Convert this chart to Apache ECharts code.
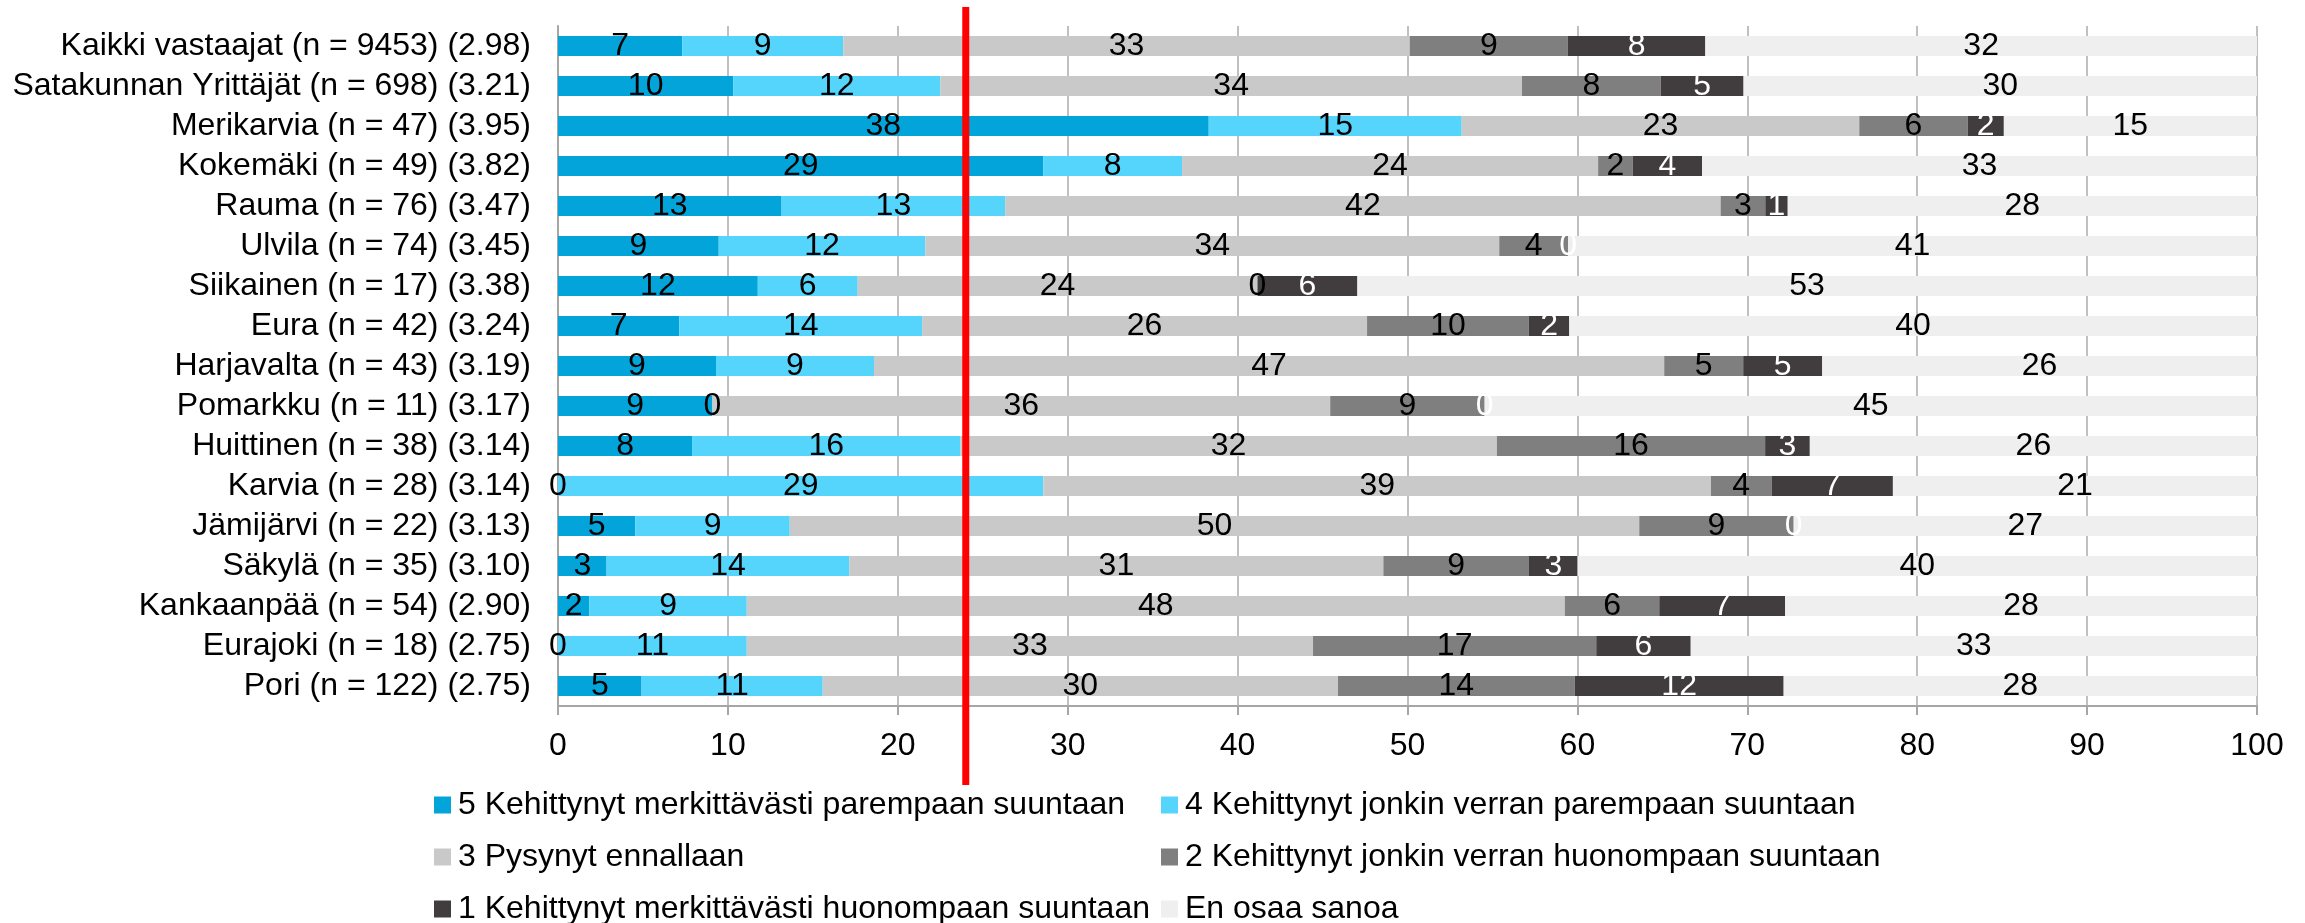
<!DOCTYPE html>
<html><head><meta charset="utf-8">
<script src="https://cdn.jsdelivr.net/npm/echarts@6/dist/echarts.min.js"></script>
<style>html,body{margin:0;padding:0;background:#fff}#c{width:2305px;height:923px}</style>
</head><body><div id="c"></div>
<script>
const categories = [
  'Kaikki vastaajat (n = 9453) (2.98)',
  'Satakunnan Yrittäjät (n = 698) (3.21)',
  'Merikarvia (n = 47) (3.95)',
  'Kokemäki (n = 49) (3.82)',
  'Rauma (n = 76) (3.47)',
  'Ulvila (n = 74) (3.45)',
  'Siikainen (n = 17) (3.38)',
  'Eura (n = 42) (3.24)',
  'Harjavalta (n = 43) (3.19)',
  'Pomarkku (n = 11) (3.17)',
  'Huittinen (n = 38) (3.14)',
  'Karvia (n = 28) (3.14)',
  'Jämijärvi (n = 22) (3.13)',
  'Säkylä (n = 35) (3.10)',
  'Kankaanpää (n = 54) (2.90)',
  'Eurajoki (n = 18) (2.75)',
  'Pori (n = 122) (2.75)'
];
const seriesNames = [
  '5 Kehittynyt merkittävästi parempaan suuntaan',
  '4 Kehittynyt jonkin verran parempaan suuntaan',
  '3 Pysynyt ennallaan',
  '2 Kehittynyt jonkin verran huonompaan suuntaan',
  '1 Kehittynyt merkittävästi huonompaan suuntaan',
  'En osaa sanoa'
];
const v5  = [7.31, 10.32, 38.30, 28.57, 13.16, 9.46, 11.76, 7.14, 9.30, 9.09, 7.89, 0, 4.55, 2.86, 1.85, 0, 4.92];
const v4  = [9.48, 12.18, 14.89, 8.16, 13.16, 12.16, 5.88, 14.29, 9.30, 0, 15.79, 28.57, 9.09, 14.29, 9.26, 11.11, 10.66];
const v3  = [33.34, 34.24, 23.40, 24.49, 42.11, 33.78, 23.53, 26.19, 46.51, 36.36, 31.58, 39.29, 50.00, 31.43, 48.15, 33.33, 30.33];
const v2  = [9.31, 8.17, 6.38, 2.04, 2.63, 4.05, 0, 9.52, 4.65, 9.09, 15.79, 3.57, 9.09, 8.57, 5.56, 16.67, 13.93];
const v1  = [8.09, 4.87, 2.13, 4.08, 1.32, 0, 5.88, 2.38, 4.65, 0, 2.63, 7.14, 0, 2.86, 7.41, 5.56, 12.30];
const vEos = [32.47, 30.23, 14.89, 32.65, 27.63, 40.54, 52.94, 40.48, 25.58, 45.45, 26.32, 21.43, 27.27, 40.00, 27.78, 33.33, 27.87];
const xTicks = [0, 10, 20, 30, 40, 50, 60, 70, 80, 90, 100];
const referenceValue = 24;

const colors = ['#02A4D9', '#55D4FC', '#C9C9C9', '#7F7F7F', '#413D3E', '#EFEFEF'];
const labelColors = ['#000', '#000', '#000', '#000', '#fff', '#000'];
const allValues = [v5, v4, v3, v2, v1, vEos];
const FONT = "'Liberation Sans', Arial, sans-serif";
const FS = 32;

const chart = echarts.init(document.getElementById('c'), null, {renderer: 'canvas'});
const series = allValues.map((vals, i) => ({
  name: seriesNames[i],
  type: 'bar',
  stack: 'total',
  barWidth: '50%',
  data: vals,
  itemStyle: {color: colors[i]},
  label: {
    show: true,
    position: 'inside',
    color: labelColors[i],
    fontSize: FS,
    fontFamily: FONT,
    formatter: p => String(Math.round(p.value))
  },
  emphasis: {disabled: true}
}));

const legendCommon = {
  orient: 'vertical', top: 789, itemGap: 20, padding: 0, height: 200, width: 900,
  itemWidth: 17, itemHeight: 17, icon: 'rect', selectedMode: false,
  textStyle: {fontSize: FS, color: '#000', fontFamily: FONT, padding: [0, 0, 0, 2]}
};

chart.setOption({
  animation: false,
  textStyle: {fontFamily: FONT},
  grid: {left: 558, right: 48, top: 26, bottom: 217, containLabel: false},
  xAxis: {
    type: 'value', min: xTicks[0], max: xTicks[xTicks.length - 1], interval: 10,
    axisLine: {show: true, lineStyle: {color: '#A6A6A6', width: 2}},
    axisTick: {show: true, length: 9, lineStyle: {color: '#A6A6A6', width: 2}},
    splitLine: {show: true, lineStyle: {color: '#C0C0C0', width: 2}},
    axisLabel: {fontSize: FS, color: '#000', fontFamily: FONT, margin: 24}
  },
  yAxis: {
    type: 'category', inverse: true, data: categories,
    axisLine: {show: true, lineStyle: {color: '#A6A6A6', width: 2}},
    axisTick: {show: false},
    axisLabel: {fontSize: FS, color: '#000', fontFamily: FONT, margin: 27, interval: 0}
  },
  legend: [
    Object.assign({}, legendCommon, {data: [seriesNames[0], seriesNames[2], seriesNames[4]], left: 434}),
    Object.assign({}, legendCommon, {data: [seriesNames[1], seriesNames[3], seriesNames[5]], left: 1161})
  ],
  series: series
});

const rx = chart.convertToPixel({xAxisIndex: 0}, referenceValue);
chart.setOption({
  graphic: [{
    type: 'line', z: 100,
    shape: {x1: rx, y1: 7, x2: rx, y2: 785},
    style: {stroke: '#FF0000', lineWidth: 7}
  }]
});
</script>
</body></html>
